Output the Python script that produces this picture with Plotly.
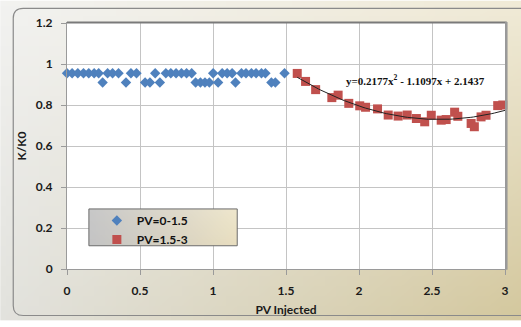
import base64, struct, zlib
import numpy as np
import plotly.graph_objects as go

# ---------------- data ----------------
pv_low = [0.00, 0.035, 0.074, 0.113, 0.149, 0.186, 0.217, 0.244, 0.278, 0.312,
          0.353, 0.404, 0.438, 0.476, 0.535, 0.568, 0.604, 0.636, 0.677, 0.711,
          0.747, 0.784, 0.819, 0.854, 0.881, 0.914, 0.945, 0.975, 1.001, 1.035,
          1.063, 1.097, 1.131, 1.154, 1.195, 1.226, 1.263, 1.295, 1.332, 1.359,
          1.400, 1.427, 1.49]
k_low = [0.955, 0.955, 0.955, 0.955, 0.955, 0.955, 0.955, 0.91, 0.955, 0.955,
         0.955, 0.91, 0.955, 0.955, 0.91, 0.91, 0.955, 0.91, 0.955, 0.955,
         0.955, 0.955, 0.955, 0.955, 0.91, 0.91, 0.91, 0.91, 0.955, 0.91,
         0.955, 0.955, 0.955, 0.91, 0.955, 0.955, 0.955, 0.955, 0.955, 0.955,
         0.91, 0.91, 0.955]

pv_high = [1.577, 1.634, 1.703, 1.814, 1.857, 1.930, 2.005, 2.045, 2.127, 2.200,
           2.268, 2.330, 2.393, 2.450, 2.495, 2.563, 2.597, 2.655, 2.677, 2.768,
           2.790, 2.836, 2.870, 2.950, 2.985]
k_high = [0.954, 0.915, 0.875, 0.836, 0.848, 0.808, 0.796, 0.789, 0.781, 0.751,
          0.746, 0.751, 0.734, 0.718, 0.750, 0.726, 0.729, 0.765, 0.745, 0.710,
          0.694, 0.742, 0.750, 0.797, 0.800]

trend_coef = [0.2177, -1.1097, 2.1437]   # y = a x^2 + b x + c
trend_range = [1.577, 3.0]

x_ticks = [0, 0.5, 1, 1.5, 2, 2.5, 3]
y_ticks = [0, 0.2, 0.4, 0.6, 0.8, 1, 1.2]

# ---------------- helpers (decoration only) ----------------
W, H = 521, 327
L, R, T, B = 67, 507, 23, 277

def px(xp):
    return (xp - L) / (R - L)

def py(yp):
    return (B - yp) / (B - T)

def gradient_png(w, h, tl, tr, bl, br):
    raw = bytearray()
    for j in range(h):
        v = j / (h - 1)
        raw.append(0)
        for i in range(w):
            u = i / (w - 1)
            for k in range(3):
                c = (1-u)*(1-v)*tl[k] + u*(1-v)*tr[k] + (1-u)*v*bl[k] + u*v*br[k]
                raw.append(int(round(c)))
    def chunk(t, d):
        return struct.pack('>I', len(d)) + t + d + struct.pack('>I', zlib.crc32(t + d) & 0xffffffff)
    png = (b'\x89PNG\r\n\x1a\n'
           + chunk(b'IHDR', struct.pack('>IIBBBBB', w, h, 8, 2, 0, 0, 0))
           + chunk(b'IDAT', zlib.compress(bytes(raw)))
           + chunk(b'IEND', b''))
    return 'data:image/png;base64,' + base64.b64encode(png).decode()

bg_img = gradient_png(48, 32, (242, 242, 240), (240, 234, 214), (226, 226, 221), (212, 200, 158))
leg_img = gradient_png(32, 8, (200, 200, 200), (238, 230, 204), (196, 196, 196), (232, 222, 192))

FONT = "Lato"

# ---------------- figure ----------------
fig = go.Figure()

tx = np.linspace(trend_range[0], trend_range[1], 80)
ty = np.polyval(trend_coef, tx)

fig.add_trace(go.Scatter(
    x=pv_low, y=k_low, mode="markers", name="PV=0-1.5",
    marker=dict(symbol="diamond", size=8, color="#4F81BD"),
    cliponaxis=False))
fig.add_trace(go.Scatter(
    x=pv_high, y=k_high, mode="markers", name="PV=1.5-3",
    marker=dict(symbol="square", size=9, color="#C0504D"),
    cliponaxis=False))
fig.add_trace(go.Scatter(
    x=tx, y=ty, mode="lines", showlegend=False,
    line=dict(color="#222222", width=1), hoverinfo="skip"))

# outer rounded chart border
x0, x1, y0, y1 = px(13), px(545), py(8), py(325)
rx = 10 / (R - L)
ry = 10 / (B - T)
path = (f"M {x0+rx},{y0} L {x1},{y0} L {x1},{y1} L {x0+rx},{y1} "
        f"Q {x0},{y1} {x0},{y1+ry} L {x0},{y0-ry} Q {x0},{y0} {x0+rx},{y0} Z")

shapes = [
    dict(type="rect", xref="paper", yref="paper", x0=0, x1=1, y0=0, y1=1,
         fillcolor="white", line=dict(width=0), layer="below"),
    dict(type="path", xref="paper", yref="paper", path=path,
         line=dict(color="#8a8a8a", width=1.2), layer="below"),
    # plot-area shadow on top and right
    dict(type="line", xref="paper", yref="paper", x0=0, x1=1.004, y0=1.002, y1=1.002,
         line=dict(color="#7a7a7a", width=2), layer="above"),
    dict(type="line", xref="paper", yref="paper", x0=1.003, x1=1.003, y0=-0.003, y1=1.004,
         line=dict(color="#9a9a9a", width=2.5), layer="above"),
    # legend box border
    dict(type="rect", xref="paper", yref="paper", x0=px(89), x1=px(238), y0=py(253), y1=py(215),
         line=dict(color="#6b6b6b", width=1), layer="above"),
]

images = [
    dict(source=bg_img, xref="paper", yref="paper", x=px(0), y=py(0),
         sizex=px(530) - px(0), sizey=py(0) - py(330), xanchor="left", yanchor="top",
         sizing="stretch", layer="below"),
    dict(source=leg_img, xref="paper", yref="paper", x=px(89), y=py(215),
         sizex=px(238) - px(89), sizey=py(215) - py(253), xanchor="left", yanchor="top",
         sizing="stretch", layer="above"),
]

fig.update_layout(
    width=W, height=H,
    margin=dict(l=L, r=W - R, t=T, b=H - B, pad=0),
    paper_bgcolor="white", plot_bgcolor="white",
    font=dict(family=FONT, size=11, color="#1a1a1a", weight=700),
    showlegend=True,
    legend=dict(x=px(97), y=py(212), xanchor="left", yanchor="top",
                bgcolor="rgba(0,0,0,0)", borderwidth=0,
                font=dict(family=FONT, size=12, color="#111111", weight=700),
                tracegroupgap=0),
    shapes=shapes, images=images,
    annotations=[dict(
        x=2.39, y=0.921, xref="x", yref="y", showarrow=False,
        text="y=0.2177x<sup>2</sup> - 1.1097x + 2.1437",
        font=dict(family="Liberation Serif", size=11, color="#111111", weight=700))],
)

fig.update_xaxes(
    range=[0, 3], tickvals=x_ticks, ticktext=[f"{v:g}" for v in x_ticks],
    showgrid=True, gridcolor="#c4c4c4", gridwidth=1,
    showline=True, linecolor="#9a9a9a", linewidth=1, mirror=True,
    ticks="outside", ticklen=5, tickcolor="#9a9a9a", ticklabelstandoff=6,
    zeroline=False,
    tickfont=dict(family=FONT, size=12, color="#1a1a1a", weight=700),
    title=dict(text="PV Injected", standoff=8,
               font=dict(family=FONT, size=12, color="#1a1a1a", weight=700)))
fig.update_yaxes(
    range=[0, 1.2], tickvals=y_ticks, ticktext=[f"{v:g}" for v in y_ticks],
    showgrid=True, gridcolor="#c4c4c4", gridwidth=1,
    showline=True, linecolor="#9a9a9a", linewidth=1, mirror=True,
    ticks="outside", ticklen=5, tickcolor="#9a9a9a", ticklabelstandoff=6,
    zeroline=False,
    tickfont=dict(family=FONT, size=12, color="#1a1a1a", weight=700),
    title=dict(text="K/K0", standoff=6,
               font=dict(family=FONT, size=12, color="#1a1a1a", weight=700)))

fig.write_html("out.html",
               config={"displayModeBar": False},
               post_script="document.body.style.margin='0';document.body.style.padding='0';")
